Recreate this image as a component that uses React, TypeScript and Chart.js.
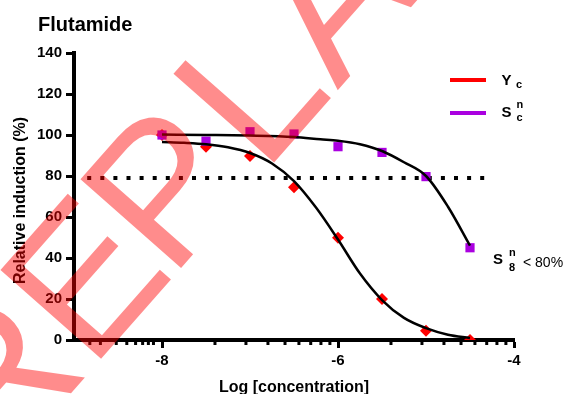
import React, { useEffect, useRef } from "react";
import { Chart, registerables } from "chart.js";

Chart.register(...registerables);

const FONT = '"Liberation Sans", Arial, Helvetica, sans-serif';

// Log concentrations of the measured points
const logConc = [-8, -7.5, -7, -6.5, -6, -5.5, -5, -4.5];
// Y_c (red diamonds)
const ycValues = [100, 94.3, 89.8, 74.5, 49.9, 20, 4.5, 0];
// S_c^n (purple squares)
const sncValues = [100, 97, 101.6, 100.5, 94.3, 91.5, 79.7, 45];

// Fitted curve of Y_c
const ycFitX = [-8, -7.75, -7.5, -7.25, -7, -6.75, -6.5, -6.25, -6, -5.75, -5.5, -5.25, -5, -4.75, -4.5];
const ycFitY = [96.6, 96.2, 95.5, 94.0, 91.2, 86.1, 77.5, 64.6, 49, 32.4, 19.5, 10.8, 5.8, 2.6, 1.0];

// Fitted curve of S_c^n
const sncFitX = [-8, -7.5, -7, -6.5, -6.2, -6, -5.75, -5.5, -5.25, -5, -4.75, -4.5];
const sncFitY = [100.2, 100, 99.7, 99.0, 97.9, 97.2, 95.5, 92.2, 86.7, 80, 65, 46];

// 80 % threshold (dotted line)
const thresholdX = [-8.85, -4.25];
const thresholdY = [79, 79];

// Axis ticks
const xMajorTicks = [-8, -6, -4];
const xMinorTicks = [
  -8.82, -8.7, -8.52, -8.4, -8.3, -8.22, -8.155, -8.097,
  -7.398, -7.046, -6.796, -6.602, -6.444, -6.31, -6.194, -6.092,
  -5.398, -5.046, -4.796, -4.602, -4.444, -4.31, -4.194, -4.092,
];
const yTickStep = 20;

const titleText = "Flutamide";
const xTitle = "Log [concentration]";
const yTitle = "Relative induction (%)";
const watermarkText = "REPLA";

const RED = "#ff0000";
const PURPLE = "#aa00e0";

const pts = (xs: number[], ys: number[]) => xs.map((x, i) => ({ x, y: ys[i] }));

const decorPlugin = {
  id: "decor",
  afterDraw(chart: any) {
    const ctx = chart.ctx as CanvasRenderingContext2D;
    const xs = chart.scales.x;
    ctx.save();
    // minor ticks on x axis
    ctx.fillStyle = "#000";
    for (const v of xMinorTicks) {
      const px = xs.getPixelForValue(v);
      ctx.fillRect(px - 1.5, xs.top, 3, 5);
    }
    // title
    ctx.textAlign = "left";
    ctx.textBaseline = "alphabetic";
    ctx.font = `bold 20px ${FONT}`;
    ctx.fillText(titleText, 38, 31);
    // x title
    ctx.font = `bold 16px ${FONT}`;
    ctx.textAlign = "center";
    ctx.fillText(xTitle, (chart.chartArea.left + chart.chartArea.right) / 2, 392);
    // y title
    ctx.save();
    ctx.translate(24.5, 200.5);
    ctx.rotate(-Math.PI / 2);
    ctx.fillText(yTitle, 0, 0);
    ctx.restore();
    // legend
    ctx.textAlign = "left";
    ctx.fillStyle = RED;
    ctx.fillRect(450, 78, 36, 4);
    ctx.fillStyle = PURPLE;
    ctx.fillRect(450, 111, 36, 4);
    ctx.fillStyle = "#000";
    ctx.font = `bold 15px ${FONT}`;
    ctx.fillText("Y", 501.5, 84.5);
    ctx.fillText("S", 501.5, 116.7);
    ctx.font = `bold 11px ${FONT}`;
    ctx.fillText("c", 516, 88);
    ctx.fillText("n", 516.5, 107.5);
    ctx.fillText("c", 516.5, 120.7);
    // annotation
    ctx.font = `bold 15px ${FONT}`;
    ctx.fillText("S", 493, 264);
    ctx.font = `bold 11px ${FONT}`;
    ctx.fillText("n", 509, 255.5);
    ctx.fillText("8", 509, 271);
    ctx.font = `14px ${FONT}`;
    ctx.fillText("< 80%", 523, 266.5);
    // watermark (letters placed along a rotated baseline)
    const letterOffsets = [-402, -261.6, -140.5, 0, 112];
    ctx.save();
    ctx.fillStyle = "rgba(255,0,0,0.45)";
    ctx.font = `195px ${FONT}`;
    ctx.translate(263.5, 174.6);
    ctx.rotate((-48.6 * Math.PI) / 180);
    Array.from(watermarkText).forEach((ch, i) => {
      ctx.fillText(ch, letterOffsets[i], 0);
    });
    ctx.restore();
    ctx.restore();
  },
};

export default function App() {
  const ref = useRef<HTMLCanvasElement | null>(null);

  useEffect(() => {
    if (!ref.current) return;
    const tickFont = { family: FONT, size: 15, weight: "bold" as const };
    const chart = new Chart(ref.current, {
      type: "scatter",
      data: {
        datasets: [
          {
            label: "threshold",
            data: pts(thresholdX, thresholdY),
            showLine: true,
            borderColor: "#000",
            borderWidth: 4,
            borderDash: [4, 9.1],
            borderCapStyle: "butt",
            pointRadius: 0,
            order: 5,
          },
          {
            label: "Yc",
            data: pts(logConc, ycValues),
            pointStyle: "rectRot",
            pointRadius: 6,
            backgroundColor: RED,
            borderColor: RED,
            borderWidth: 0,
            order: 4,
          },
          {
            label: "Snc",
            data: pts(logConc, sncValues),
            pointStyle: "rect",
            pointRadius: 6.5,
            backgroundColor: PURPLE,
            borderColor: PURPLE,
            borderWidth: 0,
            order: 3,
          },
          {
            label: "Yc fit",
            data: pts(ycFitX, ycFitY),
            showLine: true,
            borderColor: "#000",
            borderWidth: 2.5,
            pointRadius: 0,
            cubicInterpolationMode: "monotone",
            order: 1,
          },
          {
            label: "Snc fit",
            data: pts(sncFitX, sncFitY),
            showLine: true,
            borderColor: "#000",
            borderWidth: 2.5,
            pointRadius: 0,
            cubicInterpolationMode: "monotone",
            order: 1,
          },
        ],
      },
      options: {
        responsive: false,
        animation: false,
        events: [],
        layout: { padding: { left: 0, top: 53, right: 54, bottom: 0 } },
        plugins: { legend: { display: false }, tooltip: { enabled: false } },
        scales: {
          x: {
            type: "linear",
            min: -9,
            max: -4,
            afterBuildTicks: (s: any) => {
              s.ticks = xMajorTicks.map((v) => ({ value: v }));
            },
            afterFit: (s: any) => {
              s.height = 54;
            },
            ticks: {
              font: tickFont,
              color: "#000",
              padding: 4,
              autoSkip: false,
              maxRotation: 0,
              callback: (v: any) => String(v),
            },
            grid: {
              drawOnChartArea: false,
              drawTicks: true,
              tickLength: 8,
              tickWidth: 3,
              tickColor: "#000",
            },
            border: { color: "#000", width: 4 },
          },
          y: {
            type: "linear",
            min: 0,
            max: 140,
            afterFit: (s: any) => {
              s.width = 74;
            },
            ticks: {
              stepSize: yTickStep,
              font: tickFont,
              color: "#000",
              padding: 4,
            },
            grid: {
              drawOnChartArea: false,
              drawTicks: true,
              tickLength: 8,
              tickWidth: 3,
              tickColor: "#000",
            },
            border: { color: "#000", width: 4 },
          },
        },
      },
      plugins: [decorPlugin],
    });
    return () => chart.destroy();
  }, []);

  return (
    <div style={{ position: "fixed", left: 0, top: 0, width: 568, height: 394, background: "#fff" }}>
      <canvas ref={ref} width={568} height={394} style={{ display: "block" }} />
    </div>
  );
}
